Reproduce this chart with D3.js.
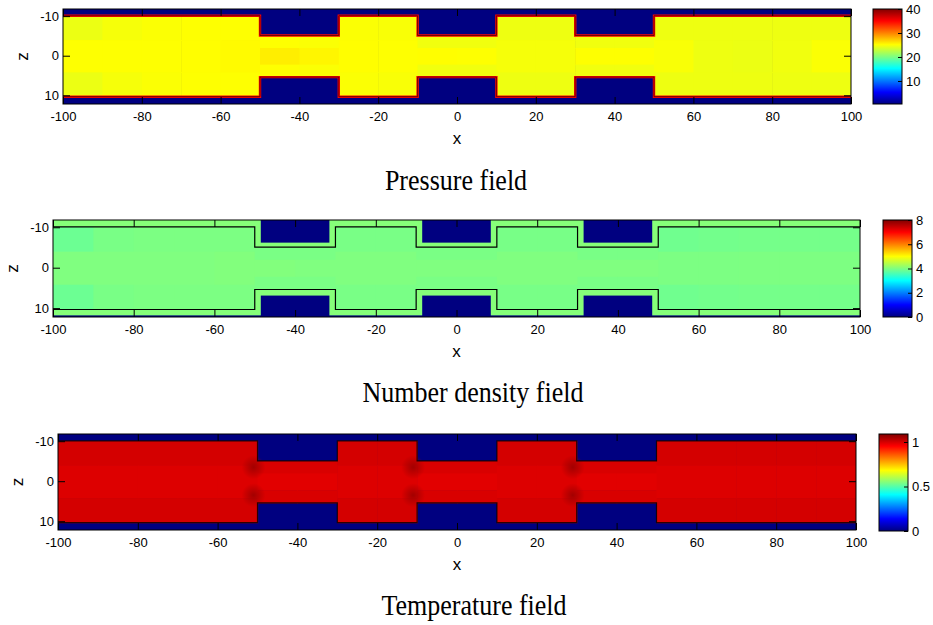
<!DOCTYPE html>
<html>
<head>
<meta charset="utf-8" />
<title>Pressure, number density and temperature fields</title>
<script src="https://d3js.org/d3.v7.min.js"></script>
<style>
    body { margin: 0; background: #fff; }
    svg { display: block; font-family: "Liberation Sans", Arial, sans-serif; }
    .title { font-family: "Liberation Serif", "Times New Roman", serif; font-size: 26px; }
    .tick text { font-size: 13px; fill: #000; }
</style>
</head>
<body>
<svg id="chart" width="933" height="625"></svg>
<script>
// channel geometry (x, z in simulation units)
const sectionEdges = [-100, -50, -30, -10, 10, 30, 50, 100];
const wallUpper = [-10.1, -5.1, -10.1, -5.1, -10.1, -5.1, -10.1];
const wallLower = [10.35, 5.4, 10.35, 5.4, 10.35, 5.4, 10.35];
const xTicks = [-100, -80, -60, -40, -20, 0, 20, 40, 60, 80, 100];
const zTicks = [-10, 0, 10];
const zDomain = [-11.8, 12.2];

// field samples, one column per 10 units of x: core = middle of channel, edge = near the walls
const columnEdges = [-100, -90, -80, -70, -60, -50, -40, -30, -20, -10, 0, 10, 20, 30, 40, 50, 60, 70, 80, 90, 100];

const pressureCore = [25.1, 25.1, 25.1, 25.2, 25.3, 25.8, 25.5, 25.2, 25.1, 25.2, 25.1, 24.8, 24.8, 25.1, 25.1, 24.9, 24.5, 24.4, 24.6, 25.0];
const pressureEdge = [24.4, 24.8, 25.0, 25.1, 25.1, 25.1, 25.0, 25.0, 24.9, 24.6, 24.6, 24.5, 24.5, 24.6, 24.6, 24.5, 24.5, 24.5, 24.5, 24.5];
const pressureWall = 35;
const pressureRange = [0.4, 40];
const pressureTicks = [10, 20, 30, 40];

const densityCore = [4.0, 4.0, 4.0, 4.0, 4.02, 4.02, 4.0, 4.0, 4.0, 4.0, 4.0, 4.0, 4.0, 4.0, 4.0, 3.97, 3.97, 3.98, 3.98, 3.98];
const densityEdge = [3.85, 3.95, 3.97, 3.97, 3.97, 3.96, 3.96, 3.95, 3.95, 3.96, 3.96, 3.94, 3.94, 3.95, 3.95, 3.88, 3.9, 3.92, 3.92, 3.92];
const densityOutside = 4.05;
const densityBlocks = [[-48.5, -31.5], [-8.5, 8.5], [31.5, 48.5]];
const densityBlockEdge = [-6.2, 6.9];
const densityStripZ = 11.8;
const densityRange = [0, 8];
const densityTicks = [0, 2, 4, 6, 8];

const temperatureCore = [0.99, 0.99, 0.99, 0.99, 0.99, 0.985, 0.985, 0.99, 0.99, 0.985, 0.985, 0.99, 0.99, 0.985, 0.985, 0.99, 0.99, 0.99, 0.99, 0.99];
const temperatureEdge = [1.0, 1.0, 1.0, 1.0, 1.0, 0.995, 0.995, 1.0, 1.0, 0.995, 0.995, 1.0, 1.0, 0.995, 0.995, 1.0, 1.0, 1.0, 1.0, 1.0];
const temperatureSpotX = [-51, -11, 29];
const temperatureSpotZ = [-3.5, 3.5];
const temperatureSpot = 1.06;
const temperatureRange = [0, 1.09];
const temperatureTicks = [0, 0.5, 1];

const svg = d3.select("#chart");
const defs = svg.append("defs");

const jetStops = [0, 0.125, 0.375, 0.625, 0.875, 1];
const jetColors = ["#000080", "#0000ff", "#00ffff", "#ffff00", "#ff0000", "#800000"];
const plain = (d) => String(d);

function jet(range) {
    return d3.scaleLinear()
        .domain(jetStops.map((t) => range[0] + t * (range[1] - range[0])))
        .range(jetColors)
        .clamp(true);
}

function drawPanel(p) {
    const x = d3.scaleLinear().domain([-100, 100]).range([p.left, p.right]);
    const z = d3.scaleLinear().domain(zDomain).range([p.top, p.bottom]);
    const color = jet(p.range);

    defs.append("clipPath").attr("id", p.id + "-clip")
        .append("rect")
        .attr("x", p.left).attr("y", p.top)
        .attr("width", p.right - p.left).attr("height", p.bottom - p.top);

    const g = svg.append("g").attr("clip-path", `url(#${p.id}-clip)`);

    // everything outside the gas
    g.append("rect")
        .attr("x", p.left).attr("y", p.top)
        .attr("width", p.right - p.left).attr("height", p.bottom - p.top)
        .attr("fill", color(p.outside));

    // gas cells: upper edge band, core, lower edge band
    const cells = [];
    p.core.forEach((v, i) => {
        const x0 = columnEdges[i], x1 = columnEdges[i + 1];
        const s = sectionEdges.findIndex((e, k) => x0 >= e && x0 < sectionEdges[k + 1]);
        const top = wallUpper[s], bot = wallLower[s], h = bot - top;
        cells.push({ x0, x1, z0: top, z1: top + 0.3 * h, v: p.edge[i] });
        cells.push({ x0, x1, z0: top + 0.3 * h, z1: bot - 0.3 * h, v });
        cells.push({ x0, x1, z0: bot - 0.3 * h, z1: bot, v: p.edge[i] });
    });
    g.selectAll(".cell").data(cells).enter().append("rect")
        .attr("class", "cell")
        .attr("x", (d) => x(d.x0))
        .attr("y", (d) => z(d.z0))
        .attr("width", (d) => x(d.x1) - x(d.x0) + 0.6)
        .attr("height", (d) => z(d.z1) - z(d.z0) + 0.6)
        .attr("fill", (d) => color(d.v));

    if (p.extra) p.extra(g, x, z, color);

    // channel walls
    const upper = [], lower = [];
    wallUpper.forEach((w, i) => {
        upper.push([sectionEdges[i], w], [sectionEdges[i + 1], w]);
        lower.push([sectionEdges[i], wallLower[i]], [sectionEdges[i + 1], wallLower[i]]);
    });
    const line = d3.line().x((d) => x(d[0])).y((d) => z(d[1]));
    p.wallStrokes.forEach((st) => {
        [upper, lower].forEach((pts) => {
            g.append("path")
                .attr("d", line(pts))
                .attr("fill", "none")
                .attr("stroke", st.color)
                .attr("stroke-width", st.width)
                .attr("stroke-opacity", st.opacity || 1);
        });
    });

    // axes with inward ticks on all four sides
    const tk = 7;
    svg.append("g").attr("transform", `translate(0,${p.bottom})`)
        .call(d3.axisBottom(x).tickValues(xTicks).tickFormat(plain).tickSizeInner(-tk).tickSizeOuter(0).tickPadding(8))
        .call((a) => a.select(".domain").remove());
    svg.append("g").attr("transform", `translate(0,${p.top})`)
        .call(d3.axisTop(x).tickValues(xTicks).tickSizeInner(-tk).tickSizeOuter(0).tickFormat(""))
        .call((a) => a.select(".domain").remove());
    svg.append("g").attr("transform", `translate(${p.left},0)`)
        .call(d3.axisLeft(z).tickValues(zTicks).tickFormat(plain).tickSizeInner(-tk).tickSizeOuter(0).tickPadding(4))
        .call((a) => a.select(".domain").remove());
    svg.append("g").attr("transform", `translate(${p.right},0)`)
        .call(d3.axisRight(z).tickValues(zTicks).tickSizeInner(-tk).tickSizeOuter(0).tickFormat(""))
        .call((a) => a.select(".domain").remove());

    svg.append("rect")
        .attr("x", p.left).attr("y", p.top)
        .attr("width", p.right - p.left).attr("height", p.bottom - p.top)
        .attr("fill", "none").attr("stroke", "#000").attr("stroke-width", 1);

    svg.append("text")
        .attr("x", (p.left + p.right) / 2).attr("y", p.bottom + 40)
        .attr("text-anchor", "middle").style("font-size", "17px")
        .text("x");
    svg.append("text")
        .attr("transform", `translate(${p.left - 35},${(p.top + p.bottom) / 2}) rotate(-90)`)
        .attr("text-anchor", "middle").style("font-size", "17px")
        .text("z");

    // colorbar
    const gradId = p.id + "-grad";
    const grad = defs.append("linearGradient").attr("id", gradId)
        .attr("x1", 0).attr("y1", 1).attr("x2", 0).attr("y2", 0);
    jetStops.forEach((t, i) => grad.append("stop").attr("offset", t).attr("stop-color", jetColors[i]));

    const cb = d3.scaleLinear().domain(p.range).range([p.cbBottom, p.top]);
    svg.append("rect")
        .attr("x", p.cbLeft).attr("y", p.top)
        .attr("width", p.cbWidth).attr("height", p.cbBottom - p.top)
        .attr("fill", `url(#${gradId})`)
        .attr("stroke", "#000").attr("stroke-width", 1);
    svg.append("g").attr("transform", `translate(${p.cbLeft + p.cbWidth},0)`)
        .call(d3.axisRight(cb).tickValues(p.ticks).tickFormat(plain).tickSizeInner(-4).tickSizeOuter(0).tickPadding(4))
        .call((a) => a.select(".domain").remove());

    svg.append("text").attr("class", "title")
        .attr("transform", `translate(${p.titleX},${p.titleY}) scale(1,1.1)`)
        .attr("text-anchor", "middle")
        .text(p.title);
}

drawPanel({
    id: "pressure", title: "Pressure field",
    left: 63, right: 851, top: 9, bottom: 104,
    cbLeft: 873, cbWidth: 29, cbBottom: 104,
    titleX: 456, titleY: 190,
    range: pressureRange, ticks: pressureTicks,
    core: pressureCore, edge: pressureEdge, outside: 0,
    wallStrokes: [
        { color: jet(pressureRange)(pressureWall), width: 2.4 },
        { color: "#500000", width: 0.8 },
    ],
});

drawPanel({
    id: "density", title: "Number density field",
    left: 53, right: 860, top: 220, bottom: 317,
    cbLeft: 883, cbWidth: 29, cbBottom: 317,
    titleX: 473, titleY: 402,
    range: densityRange, ticks: densityTicks,
    core: densityCore, edge: densityEdge, outside: densityOutside,
    wallStrokes: [{ color: "#000", width: 1.2 }],
    extra: (g, x, z, color) => {
        densityBlocks.forEach((b) => {
            g.append("rect")
                .attr("x", x(b[0])).attr("y", z(zDomain[0]))
                .attr("width", x(b[1]) - x(b[0]))
                .attr("height", z(densityBlockEdge[0]) - z(zDomain[0]))
                .attr("fill", color(0));
            g.append("rect")
                .attr("x", x(b[0])).attr("y", z(densityBlockEdge[1]))
                .attr("width", x(b[1]) - x(b[0]))
                .attr("height", z(zDomain[1]) - z(densityBlockEdge[1]))
                .attr("fill", color(0));
        });
        g.append("rect")
            .attr("x", x(-100)).attr("y", z(densityStripZ))
            .attr("width", x(100) - x(-100))
            .attr("height", z(zDomain[1]) - z(densityStripZ))
            .attr("fill", color(0));
    },
});

drawPanel({
    id: "temperature", title: "Temperature field",
    left: 58, right: 856, top: 434, bottom: 530,
    cbLeft: 879, cbWidth: 29, cbBottom: 531,
    titleX: 474, titleY: 615,
    range: temperatureRange, ticks: temperatureTicks,
    core: temperatureCore, edge: temperatureEdge, outside: 0,
    wallStrokes: [{ color: "#000", width: 1.2, opacity: 0.8 }],
    extra: (g, x, z, color) => {
        const rg = defs.append("radialGradient").attr("id", "spot-grad");
        rg.append("stop").attr("offset", 0).attr("stop-color", color(temperatureSpot)).attr("stop-opacity", 0.9);
        rg.append("stop").attr("offset", 1).attr("stop-color", color(temperatureSpot)).attr("stop-opacity", 0);
        temperatureSpotX.forEach((sx) => {
            temperatureSpotZ.forEach((sz) => {
                g.append("ellipse")
                    .attr("cx", x(sx)).attr("cy", z(sz))
                    .attr("rx", x(3) - x(0)).attr("ry", z(3) - z(0))
                    .attr("fill", "url(#spot-grad)");
            });
        });
    },
});
</script>
</body>
</html>
